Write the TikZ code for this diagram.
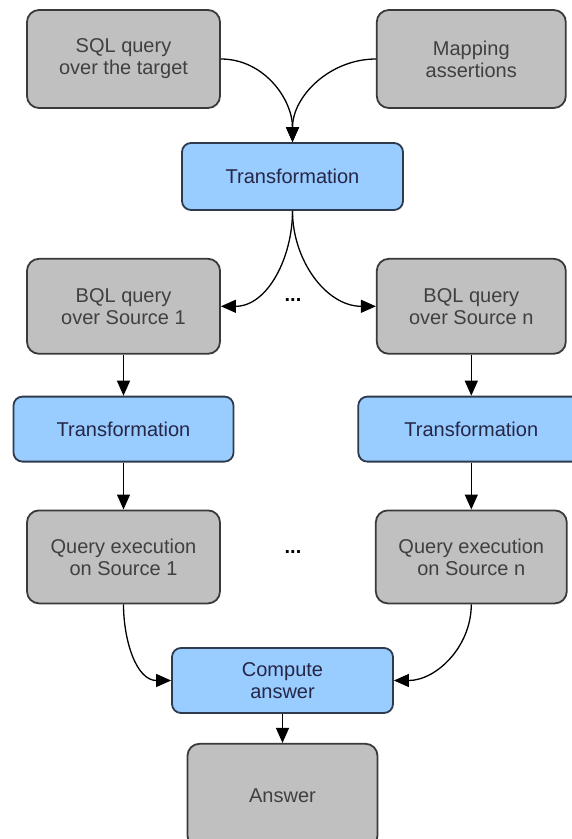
\documentclass[tikz,border=0pt]{standalone}
\usepackage{fontspec}
\setmainfont{Liberation Sans}
\usetikzlibrary{positioning,arrows.meta}
\definecolor{boxgrey}{HTML}{C0C0C0}
\definecolor{boxblue}{HTML}{99CCFF}
\definecolor{edgegrey}{HTML}{3A3A3A}
\definecolor{edgeblue}{HTML}{2E3B4E}

\begin{document}
\begin{tikzpicture}[x=1pt, y=1pt,
  every node/.style={align=center, inner sep=0pt, font=\fontsize{20}{22}\selectfont},
  data/.style={draw=edgegrey, line width=1.8pt, rounded corners=12pt, fill=boxgrey, text=black!75},
  proc/.style={draw=edgeblue, line width=1.8pt, rounded corners=9pt, fill=boxblue, text=blue!15!black!85},
  flow/.style={-{Triangle[length=15pt,width=13pt]}, line width=1.3pt}]
\useasboundingbox (0,0) rectangle (572,-839);

% Inputs
\node (sql) [data, minimum width=193pt, minimum height=98pt] at (123.5,-59) {SQL query\\over the target};
\node (mapping) [data, right=155pt of sql, minimum width=189pt, minimum height=98pt] {Mapping\\assertions};

\node (trans) [proc, minimum width=221pt, minimum height=67pt] at (292.5,-176.5) {Transformation};

% Source 1 column
\node (bqla) [data, below=149pt of sql, minimum width=193pt, minimum height=95pt] {BQL query\\over Source 1};
\node (transa) [proc, below=41pt of bqla, minimum width=220pt, minimum height=65pt] {Transformation};
\node (execa) [data, below=47pt of transa, minimum width=193pt, minimum height=93pt] {Query execution\\on Source 1};

% Source n column
\node (bqln) [data, below=149pt of mapping, minimum width=189pt, minimum height=95pt] {BQL query\\over Source n};
\node (transn) [proc, below=41pt of bqln, minimum width=226pt, minimum height=65pt] {Transformation};
\node (execn) [data, below=47pt of transn, minimum width=191pt, minimum height=93pt] {Query execution\\on Source n};

\node (dotsa) at (293,-300) {\textbf{...}};
\node (dotsb) at (293,-552) {\textbf{...}};

% Result
\node (compute) [proc, minimum width=221pt, minimum height=65pt] at (282.5,-680.5) {Compute\\answer};
\node (answer) [data, below=29pt of compute, minimum width=190pt, minimum height=104pt] {Answer};

% Arrows
\draw[flow] (sql.east) to[out=0, in=90] (trans.north);
\draw[flow] (mapping.west) to[out=180, in=90] (trans.north);
\draw[flow] (trans.south) to[out=-90, in=0] (bqla.east);
\draw[flow] (trans.south) to[out=-90, in=180] (bqln.west);
\draw[flow] (bqla) -- (transa);
\draw[flow] (transa) -- (execa);
\draw[flow] (bqln) -- (transn);
\draw[flow] (transn) -- (execn);
\draw[flow] (execa.south) to[out=-90, in=180] (compute.west);
\draw[flow] (execn.south) to[out=-90, in=0] (compute.east);
\draw[flow] (compute) -- (answer);
\end{tikzpicture}
\end{document}
